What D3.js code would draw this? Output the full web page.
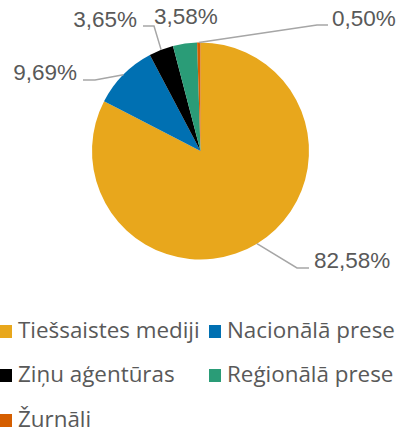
<!DOCTYPE html>
<html>
<head>
<meta charset="utf-8">
<script src="https://cdn.jsdelivr.net/npm/d3@7"></script>
<style>
body { margin: 0; background: #fff; }
.lbl { font-family: "Liberation Sans", Arial, sans-serif; font-size: 22.5px; fill: #595959; }
.leg { font-family: "Open Sans", "Noto Sans", sans-serif; font-size: 22.4px; fill: #595959; }
</style>
</head>
<body>
<div id="chart"></div>
<script>
var categories = ["Tiešsaistes mediji", "Nacionālā prese", "Ziņu aģentūras", "Reģionālā prese", "Žurnāli"];
var values = [82.58, 9.69, 3.65, 3.58, 0.50];
var labels = ["82,58%", "9,69%", "3,65%", "3,58%", "0,50%"];
var colors = ["#E8A71C", "#0070B2", "#000000", "#2A9C77", "#D55E00"];

var width = 401, height = 434;
var cx = 200.5, cy = 151, r = 108.5;

var svg = d3.select("#chart").append("svg")
  .attr("width", width)
  .attr("height", height);

var pie = d3.pie().sort(null).value(function(d){ return d; });
var arcs = pie(values);
var arc = d3.arc().innerRadius(0).outerRadius(r);

var g = svg.append("g").attr("transform", "translate(" + cx + "," + cy + ")");

g.selectAll("path")
  .data(arcs)
  .enter()
  .append("path")
  .attr("d", arc)
  .attr("fill", function(d, i){ return colors[i]; });

// label layout: elbow point, line end, text anchor (absolute coords)
var labelLayout = [
  {elbow: [297, 268], end: [309, 268], tx: 314, ty: 268, anchor: "start", line: true},
  {elbow: [95, 80], end: [83, 80], tx: 77, ty: 80, anchor: "end", line: true},
  {elbow: [154, 26], end: [143, 26], tx: 137, ty: 27, anchor: "end", line: true},
  {elbow: null, end: null, tx: 154, ty: 24, anchor: "start", line: false},
  {elbow: [317, 25], end: [328, 25], tx: 332, ty: 26, anchor: "start", line: true}
];

arcs.forEach(function(d, i){
  var L = labelLayout[i];
  var a = (d.startAngle + d.endAngle) / 2;
  var px = cx + r * Math.sin(a), py = cy - r * Math.cos(a);
  if (L.line) {
    svg.append("polyline")
      .attr("points", [[px, py], L.elbow, L.end].map(function(p){ return p.join(","); }).join(" "))
      .attr("fill", "none")
      .attr("stroke", "#A6A6A6")
      .attr("stroke-width", 1.5);
  }
  svg.append("text")
    .attr("class", "lbl")
    .attr("x", L.tx)
    .attr("y", L.ty)
    .attr("text-anchor", L.anchor)
    .text(labels[i]);
});

// legend
var legPos = [[0, 338], [209, 338], [0, 382], [209, 382], [0, 427]];
var leg = svg.append("g");
categories.forEach(function(c, i){
  var p = legPos[i];
  leg.append("rect")
    .attr("x", p[0])
    .attr("y", p[1] - 13)
    .attr("width", 12)
    .attr("height", 13)
    .attr("fill", colors[i]);
  leg.append("text")
    .attr("class", "leg")
    .attr("x", p[0] + 18)
    .attr("y", p[1])
    .text(c);
});
</script>
</body>
</html>
